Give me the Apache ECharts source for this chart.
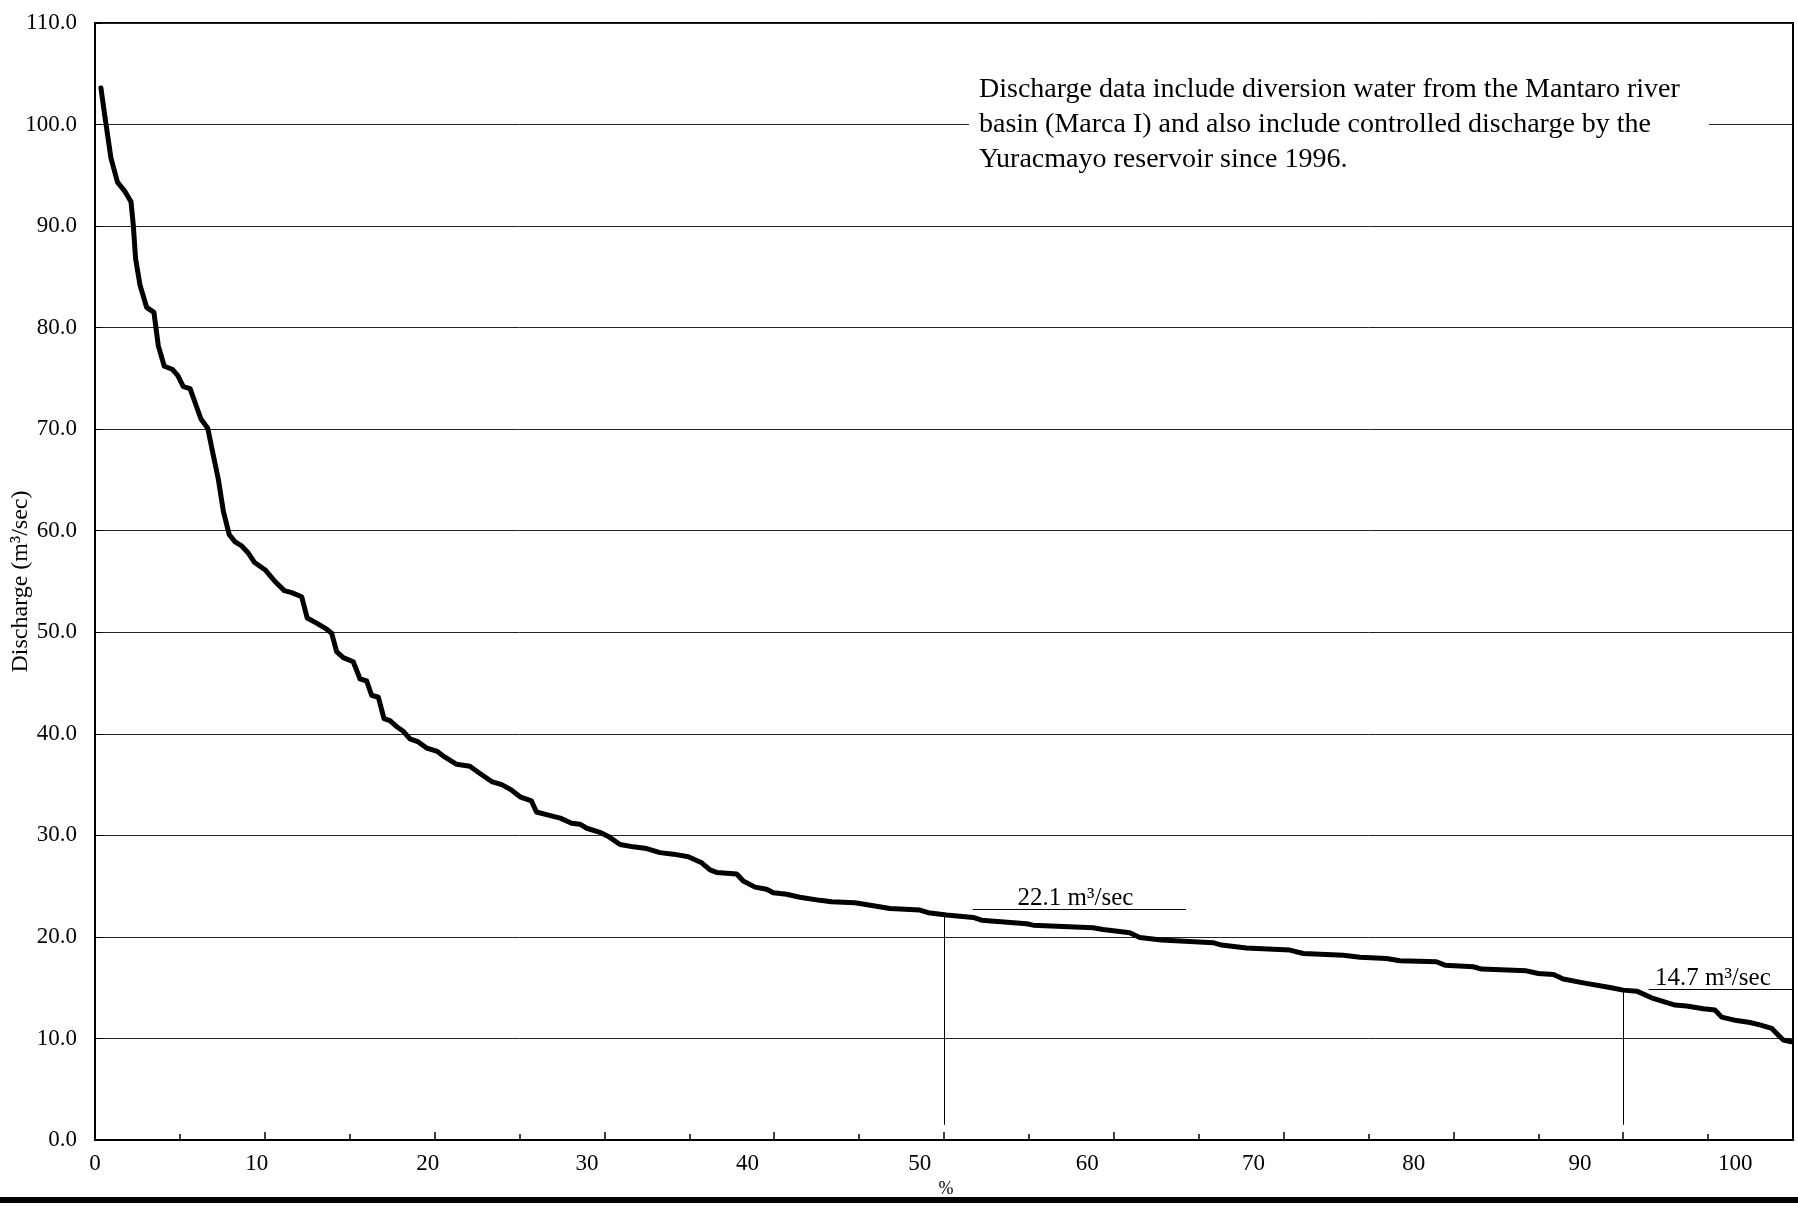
<!DOCTYPE html>
<html>
<head>
<meta charset="utf-8">
<script src="https://cdn.jsdelivr.net/npm/echarts@6/dist/echarts.min.js"></script>
<style>
html,body{margin:0;padding:0;background:#fff;}
#chart{width:1798px;height:1207px;}
</style>
</head>
<body>
<div id="chart"></div>
<script>
// Flow duration curve: percent of time exceeded (%) vs discharge (m3/sec)
const percent = [0.35,0.59,0.94,1.33,1.73,2.12,2.26,2.39,2.65,3.04,3.47,3.73,4.08,4.55,4.87,5.2,5.6,6.24,6.64,6.97,7.26,7.56,7.91,8.25,8.64,9.03,9.38,10.05,10.6,11.15,11.58,12.17,12.5,13.05,13.64,13.94,14.23,14.62,15.21,15.61,16.0,16.29,16.69,17.02,17.37,17.77,18.12,18.55,19.04,19.53,20.12,20.61,21.3,22.08,22.67,23.36,23.95,24.54,25.03,25.7,26.0,26.7,27.4,28.07,28.56,28.96,29.74,30.23,30.92,31.7,32.49,33.27,34.06,34.94,35.73,36.22,36.61,37.79,38.18,38.87,39.55,39.95,40.73,41.51,42.69,43.38,44.76,46.82,48.58,49.07,50.15,51.72,52.21,54.86,55.25,58.78,59.37,60.94,61.53,62.8,65.85,66.34,67.81,70.37,71.16,73.52,74.5,76.07,76.85,79.0,79.5,81.17,81.66,84.3,85.0,85.9,86.47,87.65,89.22,90.0,90.8,91.67,93.05,93.74,94.72,95.4,95.8,96.68,97.47,98.05,98.74,99.13,99.43,99.9];
const discharge = [103.6,100.7,96.7,94.3,93.5,92.4,90.0,86.8,84.2,82.0,81.5,78.2,76.2,75.9,75.3,74.2,74.0,71.0,70.1,67.4,65.1,61.9,59.6,58.9,58.5,57.8,56.9,56.1,55.0,54.1,53.9,53.5,51.4,50.9,50.3,49.9,48.1,47.5,47.1,45.4,45.2,43.8,43.6,41.5,41.3,40.7,40.3,39.5,39.2,38.6,38.3,37.7,37.0,36.8,36.1,35.3,35.0,34.45,33.8,33.4,32.3,32.0,31.7,31.2,31.1,30.7,30.3,29.9,29.1,28.87,28.7,28.3,28.15,27.9,27.3,26.6,26.35,26.2,25.5,24.9,24.7,24.35,24.2,23.9,23.6,23.46,23.36,22.8,22.64,22.38,22.15,21.92,21.65,21.3,21.16,20.9,20.73,20.4,19.95,19.7,19.43,19.2,18.9,18.7,18.37,18.2,18.0,17.88,17.65,17.55,17.22,17.06,16.83,16.66,16.4,16.3,15.85,15.47,15.02,14.76,14.66,14.0,13.29,13.19,12.93,12.8,12.1,11.76,11.57,11.34,11.0,10.33,9.84,9.68];
const xTickLabels = ['0','10','20','30','40','50','60','70','80','90','100'];
const yTickValues = [0,10,20,30,40,50,60,70,80,90,100,110];
// annotated durations and discharges
const medianPct = 50, medianQ = 22.1;
const q90Pct = 90, q90Q = 14.7;
const noteLines = [
  'Discharge data include diversion water from the Mantaro river',
  'basin (Marca I) and also include controlled discharge by the',
  'Yuracmayo reservoir since 1996.'
];

const FONT = "'Liberation Serif','Times New Roman',serif";
const chart = echarts.init(document.getElementById('chart'), null, {renderer:'canvas'});

const curve = percent.map((p,i)=>[p, discharge[i]]);

// the source chart prints its % labels slightly off the tick marks; these are where they sit on the axis
const labelSpots = [0, 9.53, 19.6, 28.98, 38.43, 48.57, 58.43, 68.23, 77.67, 87.46, 96.6];

const option = {
  backgroundColor:'#fff',
  animation:false,
  textStyle:{fontFamily:FONT, color:'#000'},
  grid:{left:95, top:23, width:1698, height:1117, show:true, borderColor:'#000', borderWidth:2, backgroundColor:'transparent', containLabel:false, outerBoundsMode:'none'},
  xAxis:{
    type:'value', min:0, max:100, interval:10,
    name:'%', nameLocation:'middle', nameGap:40, nameMoveOverlap:false,
    nameTextStyle:{fontFamily:FONT, fontSize:18, color:'#000', padding:[0,0,0,4]},
    axisLine:{show:true, lineStyle:{color:'#000', width:2}},
    axisTick:{show:true, inside:true, length:8, lineStyle:{color:'#000', width:1.5}},
    minorTick:{show:true, splitNumber:2, length:6, lineStyle:{color:'#000', width:1.5}},
    axisLabel:{show:true, margin:12, fontFamily:FONT, fontSize:23, color:'#000',
      customValues:labelSpots,
      formatter:function(v){
        let best=0, d=1e9;
        labelSpots.forEach((s,i)=>{ if(Math.abs(s-v)<d){d=Math.abs(s-v); best=i;} });
        return xTickLabels[best];
      }},
    splitLine:{show:false}
  },
  yAxis:{
    type:'value', min:yTickValues[0], max:yTickValues[yTickValues.length-1], interval:10,
    name:'Discharge (m³/sec)', nameLocation:'middle', nameRotate:90, nameGap:62, nameMoveOverlap:false,
    nameTextStyle:{fontFamily:FONT, fontSize:24, color:'#000'},
    axisLine:{show:true, lineStyle:{color:'#000', width:2}},
    axisTick:{show:true, inside:true, length:7, lineStyle:{color:'#000', width:1}},
    axisLabel:{margin:18, fontFamily:FONT, fontSize:23, color:'#000', formatter:v=>v.toFixed(1)},
    splitLine:{show:true, lineStyle:{color:'#222', width:1}}
  },
  series:[{
    type:'line', data:curve, symbol:'none', smooth:false,
    lineStyle:{color:'#000', width:5, join:'round', cap:'round'},
    z:5,
    markLine:{
      silent:true, symbol:['none','none'],
      lineStyle:{color:'#000', width:1, type:'solid'},
      label:{show:false},
      data:[
        [{coord:[medianPct, medianQ]},{coord:[medianPct, 1.5]}],
        [{coord:[q90Pct, q90Q]},{coord:[q90Pct, 1.5]}],
        [{coord:[51.7, 22.7], label:{show:true, position:'insideMiddleTop', distance:1, offset:[-4,2], formatter:medianQ.toFixed(1)+' m³/sec', fontFamily:FONT, fontSize:25, color:'#000'}},{coord:[64.25, 22.7]}],
        [{coord:[91.5, 14.83], label:{show:true, position:'insideMiddleTop', distance:1, offset:[-8,3], formatter:q90Q.toFixed(1)+' m³/sec', fontFamily:FONT, fontSize:25, color:'#000'}},{coord:[100, 14.83]}]
      ]
    }
  }],
  graphic:[
    {type:'rect', left:969, top:68, shape:{width:740, height:108}, style:{fill:'#fff'}, z:50},
    {type:'text', left:979, top:72, z:51, style:{text:noteLines.join('\n'), font:"28px 'Liberation Serif','Times New Roman',serif", lineHeight:35, fill:'#000'}},
    {type:'rect', left:0, top:1197, shape:{width:1798, height:6}, style:{fill:'#000'}, z:50}
  ]
};
chart.setOption(option);
</script>
</body>
</html>
